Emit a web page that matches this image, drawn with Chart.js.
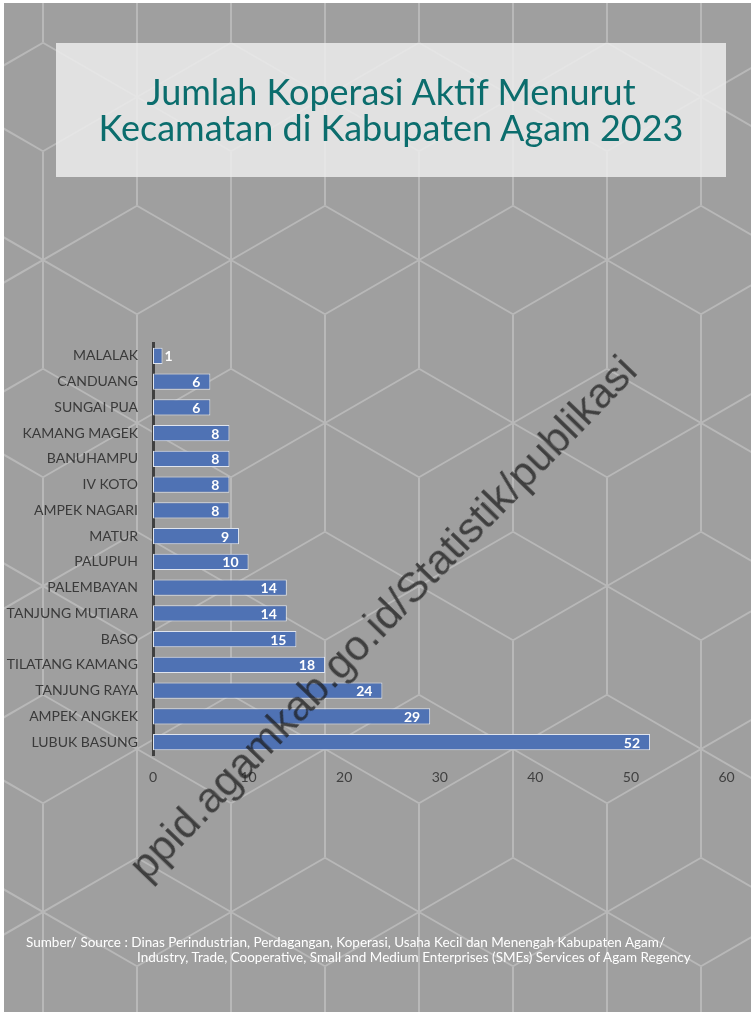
<!DOCTYPE html>
<html>
<head>
<meta charset="utf-8">
<script src="https://cdn.jsdelivr.net/npm/chart.js@4.4.1/dist/chart.umd.min.js"></script>
<style>
    html, body { margin: 0; padding: 0; background: #fff; }
    #page { position: relative; width: 754px; height: 1015px; overflow: hidden; }
    #koperasiChart { position: absolute; left: 0; top: 0; }
    .title-box {
        position: absolute; left: 56px; top: 43px; width: 670px; height: 134px;
        background: rgba(236, 236, 236, 0.85);
    }
    .title {
        position: absolute; left: 56px; top: 73px; width: 670px; text-align: center;
        font-family: Lato, sans-serif; font-size: 36px; line-height: 36px; color: #0b6d6d;
    }
    .watermark {
        position: absolute; left: 383px; top: 618px;
        transform: translate(-50%, -50%) rotate(-46deg);
        white-space: nowrap; font-family: "Liberation Sans", Arial, sans-serif; font-size: 42.5px;
        color: rgba(25, 25, 25, 0.72); filter: blur(0.7px); pointer-events: none;
    }
    .source {
        position: absolute; left: 26px; top: 935px; color: #fff;
        font-family: Lato, sans-serif; font-size: 13.5px; line-height: 15px; white-space: nowrap;
    }
    .source span { display: block; padding-left: 111px; }
</style>
</head>
<body>
<div id="page">
    <canvas id="koperasiChart" width="754" height="1015"></canvas>
    <div class="title-box"></div>
    <div class="title">Jumlah Koperasi Aktif Menurut<br>Kecamatan di Kabupaten Agam 2023</div>
    <div class="watermark">ppid.agamkab.go.id/Statistik/publikasi</div>
    <div class="source">Sumber/ Source : Dinas Perindustrian, Perdagangan, Koperasi, Usaha Kecil dan Menengah Kabupaten Agam/
        <span>Industry, Trade, Cooperative, Small and Medium Enterprises (SMEs) Services of Agam Regency</span></div>
</div>
<script>
// data
const kecamatan = ['MALALAK', 'CANDUANG', 'SUNGAI PUA', 'KAMANG MAGEK', 'BANUHAMPU', 'IV KOTO',
    'AMPEK NAGARI', 'MATUR', 'PALUPUH', 'PALEMBAYAN', 'TANJUNG MUTIARA', 'BASO',
    'TILATANG KAMANG', 'TANJUNG RAYA', 'AMPEK ANGKEK', 'LUBUK BASUNG'];
const jumlahKoperasi = [1, 6, 6, 8, 8, 8, 8, 9, 10, 14, 14, 15, 18, 24, 29, 52];
const xTicks = [0, 10, 20, 30, 40, 50, 60];

// grey background with the hexagon line pattern
const hexBackground = {
    id: 'hexBackground',
    beforeDraw(chart) {
        const ctx = chart.ctx;
        ctx.save();
        ctx.fillStyle = '#ffffff';
        ctx.fillRect(0, 0, chart.width, chart.height);
        ctx.fillStyle = '#9f9f9f';
        ctx.fillRect(4, 3, 747, 1009);
        ctx.beginPath();
        ctx.rect(4, 3, 747, 1009);
        ctx.clip();
        ctx.strokeStyle = '#b8b8b8';
        ctx.lineWidth = 2;
        const R = 108.5, dx = 94, dy = 54.25;
        for (let r = -2; r <= 6; r++) {
            const cy = 260 + r * 163;
            const off = (r % 2 !== 0) ? 94 : 0;
            for (let cx = 43 + off - 188; cx < 900; cx += 188) {
                ctx.beginPath();
                ctx.moveTo(cx, cy - R); ctx.lineTo(cx, cy + R);
                ctx.moveTo(cx - dx, cy - dy); ctx.lineTo(cx + dx, cy + dy);
                ctx.moveTo(cx - dx, cy + dy); ctx.lineTo(cx + dx, cy - dy);
                ctx.stroke();
            }
        }
        ctx.restore();
    }
};

// value labels at the end of each bar
const valueLabels = {
    id: 'valueLabels',
    afterDatasetsDraw(chart) {
        const ctx = chart.ctx;
        const meta = chart.getDatasetMeta(0);
        ctx.save();
        ctx.font = 'bold 14px Lato, sans-serif';
        ctx.fillStyle = '#ffffff';
        ctx.textBaseline = 'middle';
        meta.data.forEach((bar, i) => {
            const txt = String(jumlahKoperasi[i]);
            const w = bar.x - bar.base;
            if (w > ctx.measureText(txt).width + 14) {
                ctx.textAlign = 'right';
                ctx.fillText(txt, bar.x - 10, bar.y + 1);
            } else {
                ctx.textAlign = 'left';
                ctx.fillText(txt, bar.x + 2, bar.y + 1);
            }
        });
        ctx.restore();
    }
};

const ctx = document.getElementById('koperasiChart').getContext('2d');
new Chart(ctx, {
    type: 'bar',
    data: {
        labels: kecamatan,
        datasets: [{
            data: jumlahKoperasi,
            backgroundColor: '#4f72b4',
            borderColor: '#dfe4ee',
            borderWidth: 1,
            borderSkipped: false,
            barPercentage: 0.8,
            categoryPercentage: 0.78
        }]
    },
    options: {
        indexAxis: 'y',
        responsive: false,
        animation: false,
        layout: { padding: { left: 0, right: 27.5, top: 343, bottom: 230 } },
        plugins: {
            legend: { display: false },
            tooltip: { enabled: false }
        },
        scales: {
            x: {
                min: 0,
                max: 60,
                afterBuildTicks: (scale) => { scale.ticks = xTicks.map(v => ({ value: v })); },
                afterFit: (scale) => { scale.height = 30; },
                grid: { display: false, drawTicks: false },
                border: { display: false },
                ticks: { color: '#404040', padding: 14, font: { family: 'Lato', size: 14 } }
            },
            y: {
                afterFit: (scale) => { scale.width = 153; },
                grid: { display: false, drawTicks: false },
                border: { display: true, color: '#404040', width: 3 },
                ticks: { color: '#3a3a3a', padding: 15, font: { family: 'Lato', size: 14 } }
            }
        }
    },
    plugins: [hexBackground, valueLabels]
});
</script>
</body>
</html>
